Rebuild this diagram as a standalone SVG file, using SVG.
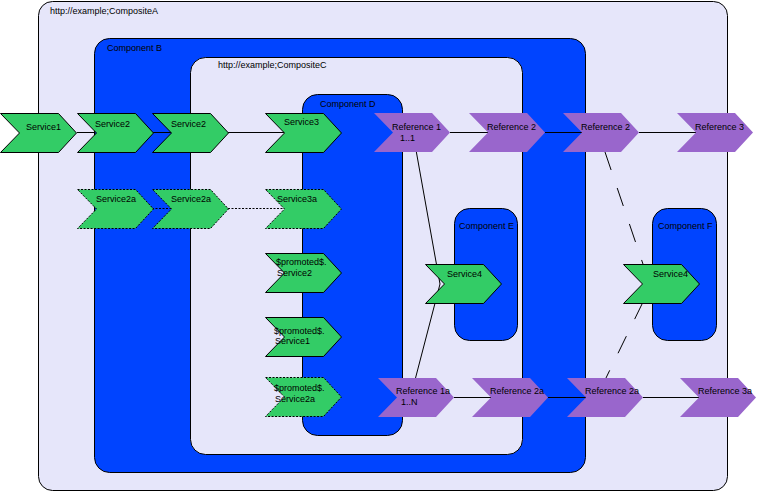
<svg xmlns="http://www.w3.org/2000/svg" xmlns:xlink="http://www.w3.org/1999/xlink" width="761" height="492" viewBox="0 0 761 492">
<style>
text{font-family:"Liberation Sans",Arial,sans-serif;font-size:9px;fill:#000}
.comp{fill:#E6E6FA;stroke:#000;stroke-width:1}
.blue{fill:#0044FF;stroke:#000;stroke-width:1}
.svc{fill:#33CC66;stroke:#000;stroke-width:1}
.svcd{fill:#33CC66;stroke:#000;stroke-width:1;stroke-dasharray:2 1.5}
.ref{fill:#9966CC;stroke:none}
.wire{stroke:#000;stroke-width:1;fill:none}
.dot{stroke:#000;stroke-width:1;fill:none;stroke-dasharray:2 1.5}
.dash{stroke:#000;stroke-width:1;fill:none;stroke-dasharray:19 19}
</style>
<defs>
<path id="chev" d="M0,0 H58 L76,19.5 L58,39 H0 L19,19.5 Z"/>
</defs>
<g id="compositeA"><rect class="comp" x="38.5" y="1.5" width="689" height="489" rx="14"/><text x="50" y="14">http://example;CompositeA</text></g>
<g id="componentB"><rect class="blue" x="94.5" y="38.5" width="491" height="434" rx="15"/><text x="107" y="51">Component B</text></g>
<g id="compositeC"><rect class="comp" x="190.5" y="57.5" width="332" height="397" rx="15"/><text x="218" y="68">http://example;CompositeC</text></g>
<g id="componentD"><rect class="blue" x="302.5" y="94.5" width="100" height="341" rx="15"/><text x="320" y="107">Component D</text></g>
<g id="componentE"><rect class="blue" x="454.5" y="208.5" width="63" height="132" rx="15"/><text x="459" y="229">Component E</text></g>
<g id="componentF"><rect class="blue" x="652.5" y="208.5" width="64" height="132" rx="15"/><text x="658" y="229">Component F</text></g>
<g id="connectors">
<path class="wire" d="M77,132.5 H95 M152,132.5 H171 M228,132.5 H284"/>
<path class="dot" d="M152,208.5 H171 M228,208.5 H284"/>
<path class="wire" d="M450,132.5 H488 M545,132.5 H582 M639,132.5 H696"/>
<path class="wire" d="M454,397.5 H491 M548,397.5 H586 M643,397.5 H699"/>
<path class="wire" d="M416,150 L440,284 M440,284 L415,380"/>
<path class="dash" d="M605,152 L645,270"/>
<path class="dash" d="M643,302 L605,380"/>
</g>
<g id="service1"><use xlink:href="#chev" class="svc" x="0.5" y="113.5"/><text x="26" y="130">Service1</text></g>
<g id="service2B"><use xlink:href="#chev" class="svc" x="77.5" y="113.5"/><text x="95" y="127">Service2</text></g>
<g id="service2C"><use xlink:href="#chev" class="svc" x="152.5" y="113.5"/><text x="171" y="127">Service2</text></g>
<g id="service2aB"><use xlink:href="#chev" class="svcd" x="77.5" y="189.5"/><text x="96" y="202">Service2a</text></g>
<g id="service2aC"><use xlink:href="#chev" class="svcd" x="152.5" y="189.5"/><text x="171" y="202">Service2a</text></g>
<g id="service3"><use xlink:href="#chev" class="svc" x="265.5" y="113.5"/><text x="284" y="125">Service3</text></g>
<g id="service3a"><use xlink:href="#chev" class="svcd" x="265.5" y="189.5"/><text x="277" y="202">Service3a</text></g>
<g id="promService2"><use xlink:href="#chev" class="svc" x="265.5" y="253.5"/><text x="276" y="265">$promoted$.</text><text x="277" y="276">Service2</text></g>
<g id="promService1"><use xlink:href="#chev" class="svc" x="265.5" y="317.5"/><text x="274" y="334">$promoted$.</text><text x="275" y="344">Service1</text></g>
<g id="promService2a"><use xlink:href="#chev" class="svcd" x="265.5" y="377.5"/><text x="274" y="391">$promoted$.</text><text x="275" y="402">Service2a</text></g>
<g id="service4E"><use xlink:href="#chev" class="svc" x="425.5" y="264.5" transform="translate(0,0)"/><text x="447" y="277">Service4</text></g>
<g id="service4F"><use xlink:href="#chev" class="svc" x="623.5" y="264.5"/><text x="653" y="277">Service4</text></g>
<g id="reference1"><use xlink:href="#chev" class="ref" x="374" y="113"/><text x="392" y="130">Reference 1</text><text x="400" y="141">1..1</text></g>
<g id="reference2C"><use xlink:href="#chev" class="ref" x="469" y="113"/><text x="487" y="130">Reference 2</text></g>
<g id="reference2B"><use xlink:href="#chev" class="ref" x="563" y="113"/><text x="581" y="130">Reference 2</text></g>
<g id="reference3"><use xlink:href="#chev" class="ref" x="677" y="113"/><text x="695" y="130">Reference 3</text></g>
<g id="reference1a"><use xlink:href="#chev" class="ref" x="378" y="378"/><text x="396" y="394">Reference 1a</text><text x="401" y="405">1..N</text></g>
<g id="reference2aC"><use xlink:href="#chev" class="ref" x="472" y="378"/><text x="490" y="394">Reference 2a</text></g>
<g id="reference2aB"><use xlink:href="#chev" class="ref" x="567" y="378"/><text x="585" y="394">Reference 2a</text></g>
<g id="reference3a"><use xlink:href="#chev" class="ref" x="680" y="378"/><text x="698" y="394">Reference 3a</text></g>
</svg>
